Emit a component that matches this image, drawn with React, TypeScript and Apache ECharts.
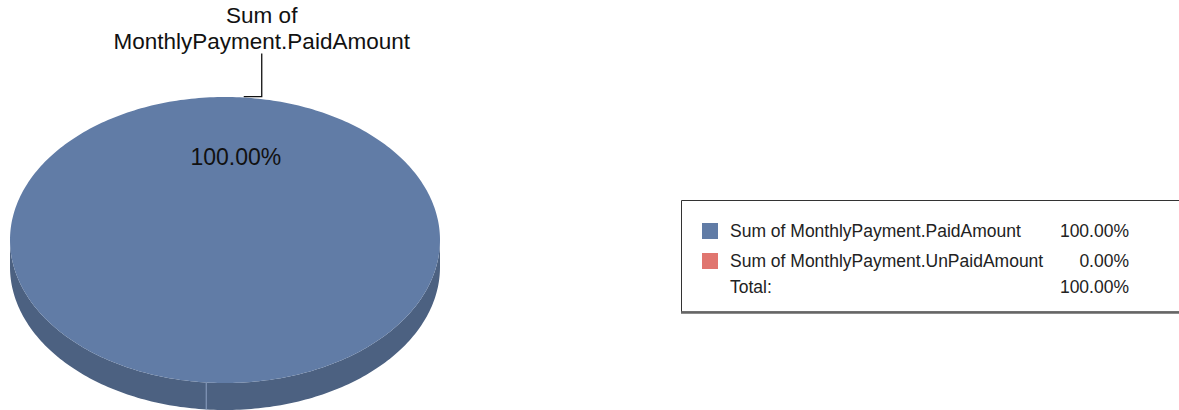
import React, { useEffect, useRef } from "react";
import * as echarts from "echarts";

const categories = ["Sum of MonthlyPayment.PaidAmount", "Sum of MonthlyPayment.UnPaidAmount"];
const values = [100, 0];
const colors = ["#617CA6", "#E0756F"];
const sideColors = ["#4C6181", "#B05C57"];
const totalLabel = "Total:";

const FONT = "'Liberation Sans', Arial, Helvetica, sans-serif";

function fmtPct(v: number, total: number) {
  return (total ? (v / total) * 100 : 0).toFixed(2) + "%";
}

export default function App() {
  const ref = useRef<HTMLDivElement>(null);
  useEffect(() => {
    const chart = echarts.init(ref.current!, null, { renderer: "svg" });
    const total = values.reduce((a, b) => a + b, 0);
    const START = 185; // first slice angle, degrees clockwise from 12 o'clock
    const cum: number[] = [];
    let acc = 0;
    values.forEach((v) => {
      cum.push(acc);
      acc += v;
    });

    const geo = { cx: 225, cy: 240, rx: 215, ry: 143, depth: 27 };
    const pt = (deg: number, dy = 0, f = 1) => {
      const r = (deg * Math.PI) / 180;
      return [geo.cx + f * geo.rx * Math.sin(r), geo.cy - f * geo.ry * Math.cos(r) + dy];
    };
    const arc = (a0: number, a1: number, dy = 0) => {
      const pts: number[][] = [];
      const n = Math.max(2, Math.ceil(Math.abs(a1 - a0)));
      for (let k = 0; k <= n; k++) pts.push(pt(a0 + ((a1 - a0) * k) / n, dy));
      return pts;
    };

    const renderItem = (params: any, api: any) => {
      const i = params.seriesIndex;
      const v = api.value(0);
      const a0 = START + (cum[i] / total) * 360;
      const a1 = a0 + (v / total) * 360;
      const children: any[] = [];
      for (const base of [90, 450]) {
        const s = Math.max(a0, base);
        const e = Math.min(a1, base + 180);
        if (e > s) {
          const top = arc(s, e);
          const bottom = arc(e, s, geo.depth);
          children.push({
            type: "polygon",
            z2: 1,
            shape: { points: top.concat(bottom) },
            style: { fill: sideColors[i] },
          });
        }
      }
      const norm = ((a0 % 360) + 360) % 360;
      if (norm > 90 && norm < 270) {
        const p1 = pt(norm);
        const p2 = pt(norm, geo.depth);
        children.push({
          type: "line",
          z2: 2,
          shape: { x1: p1[0], y1: p1[1], x2: p2[0], y2: p2[1] },
          style: { stroke: "#7F93B6", lineWidth: 0.8 },
        });
      }
      if (v > 0) {
        children.push({
          type: "polygon",
          z2: 5,
          shape: { points: [[geo.cx, geo.cy]].concat(arc(a0, a1)) },
          style: { fill: colors[i] },
        });
        const mid = (a0 + a1) / 2;
        const inner = pt(mid, 0, 0.58);
        children.push({
          type: "text",
          z2: 10,
          x: inner[0],
          y: inner[1],
          style: {
            text: fmtPct(v, total),
            fill: "#111",
            fontSize: 23,
            fontFamily: FONT,
            align: "center",
            verticalAlign: "middle",
          },
        });
        const anchor = pt(mid);
        const ax = anchor[0];
        const ay = anchor[1] - 1;
        const ex = ax + 18;
        children.push({
          type: "polyline",
          z2: 10,
          shape: { points: [[ax, ay], [ex, ay], [ex, ay - 43]] },
          style: { stroke: "#111", lineWidth: 1.3, fill: null },
        });
        children.push({
          type: "text",
          z2: 10,
          x: ex,
          y: ay - 42,
          style: {
            text: categories[i].replace(/^(Sum of) /, "$1\n"),
            fill: "#111",
            fontSize: 22.5,
            lineHeight: 26,
            fontFamily: FONT,
            align: "center",
            verticalAlign: "bottom",
          },
        });
      }
      return { type: "group", children };
    };

    const series = categories.map((name, i) => ({
      type: "custom",
      name,
      coordinateSystem: "none",
      renderItem,
      itemStyle: { color: colors[i] },
      data: [[values[i]]],
    }));

    const textBase = { fontSize: 17.5, fontFamily: FONT, color: "#222", lineHeight: 16 };

    chart.setOption({
      animation: false,
      backgroundColor: "#fff",
      legend: {
        orient: "vertical",
        left: 702,
        top: 222,
        padding: 0,
        itemWidth: 16,
        itemHeight: 16,
        itemGap: 12,
        icon: "rect",
        selectedMode: false,
        data: categories,
        formatter: (name: string) => {
          const idx = categories.indexOf(name);
          return `{n|${name}}{v|${fmtPct(values[idx], total)}}`;
        },
        textStyle: {
          ...textBase,
          rich: {
            n: { ...textBase, width: 330, padding: [0, 0, 0, 7] },
            v: { ...textBase, width: 69, align: "right" },
          },
        },
      },
      graphic: [
        {
          type: "rect",
          z: -1,
          shape: { x: 681.5, y: 200.5, width: 520, height: 111.5 },
          style: { fill: "#fff", stroke: "#333", lineWidth: 1 },
        },
        {
          type: "line",
          shape: { x1: 681, y1: 312.5, x2: 1179, y2: 312.5 },
          style: { stroke: "#666", lineWidth: 2.5 },
        },
        {
          type: "text",
          x: 730,
          y: 287,
          style: {
            text: totalLabel,
            fontSize: 17.5,
            fontFamily: FONT,
            fill: "#222",
            align: "left",
            verticalAlign: "middle",
          },
        },
        {
          type: "text",
          x: 1129,
          y: 287,
          style: {
            text: fmtPct(total, total),
            fontSize: 17.5,
            fontFamily: FONT,
            fill: "#222",
            align: "right",
            verticalAlign: "middle",
          },
        },
      ],
      series,
    });
    return () => chart.dispose();
  }, []);
  return (
    <div
      ref={ref}
      style={{ position: "absolute", left: 0, top: 0, width: 1179, height: 410 }}
    />
  );
}
